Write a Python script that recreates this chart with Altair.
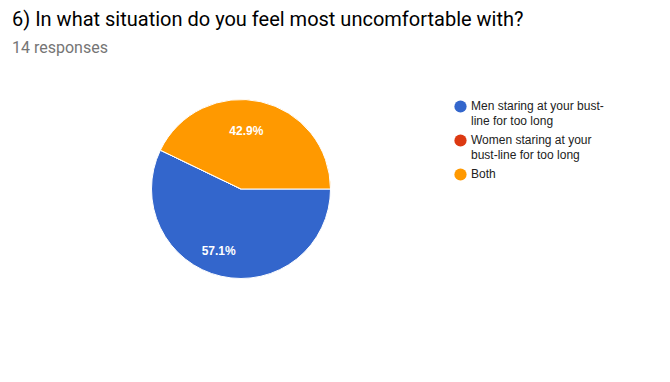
import altair as alt
import pandas as pd

answers = ["Men staring at your bust-|line for too long",
           "Women staring at your|bust-line for too long",
           "Both"]
counts = [8, 0, 6]
colors = ["#3366CC", "#DC3912", "#FF9900"]
total = sum(counts)

df = pd.DataFrame({
    "answer": answers,
    "count": counts,
    "idx": list(range(len(answers))),
    "pct": [c / total for c in counts],
})

base = alt.Chart(df).encode(
    theta=alt.Theta("count:Q", stack=True,
                    scale=alt.Scale(range=[1.5707963, 7.8539816])),
    order=alt.Order("idx:Q"),
)

pie = base.mark_arc(outerRadius=89.5, stroke="white", strokeWidth=1).encode(
    color=alt.Color(
        "answer:N",
        sort=answers,
        scale=alt.Scale(domain=answers, range=colors),
        legend=alt.Legend(
            title=None,
            orient="none",
            legendX=442,
            legendY=1,
            symbolType="circle",
            symbolSize=150,
            symbolStrokeWidth=0,
            labelFont="Liberation Sans",
            labelFontSize=12,
            labelColor="#222222",
            labelBaseline="top",
            labelOffset=4,
            labelLimit=300,
            rowPadding=6,
            padding=0,
            labelExpr="split(datum.label, '|')",
        ),
    )
)

labels = base.transform_filter("datum.count > 0").mark_text(
    radius=62, dx=-8.5, dy=2, font="Liberation Sans", fontSize=12,
    fontWeight="bold", color="white"
).encode(text=alt.Text("pct:Q", format=".1%"))

chart = alt.layer(pie, labels).properties(
    width=458,
    height=180,
    padding={"left": 4, "top": 1, "right": 0, "bottom": 0},
    title=alt.TitleParams(
        text="6) In what situation do you feel most uncomfortable with?",
        subtitle="14 responses",
        anchor="start",
        font="Roboto",
        fontSize=20,
        fontWeight="normal",
        color="#000000",
        subtitleFont="Roboto",
        subtitleFontSize=16,
        subtitleColor="#757575",
        subtitlePadding=10,
        offset=42,
    ),
).configure_view(stroke=None).configure(
    style={"guide-label": {"lineHeight": 15.3, "dy": -6}}
)

chart.save("out.html", embed_options={"renderer": "svg", "actions": False})
